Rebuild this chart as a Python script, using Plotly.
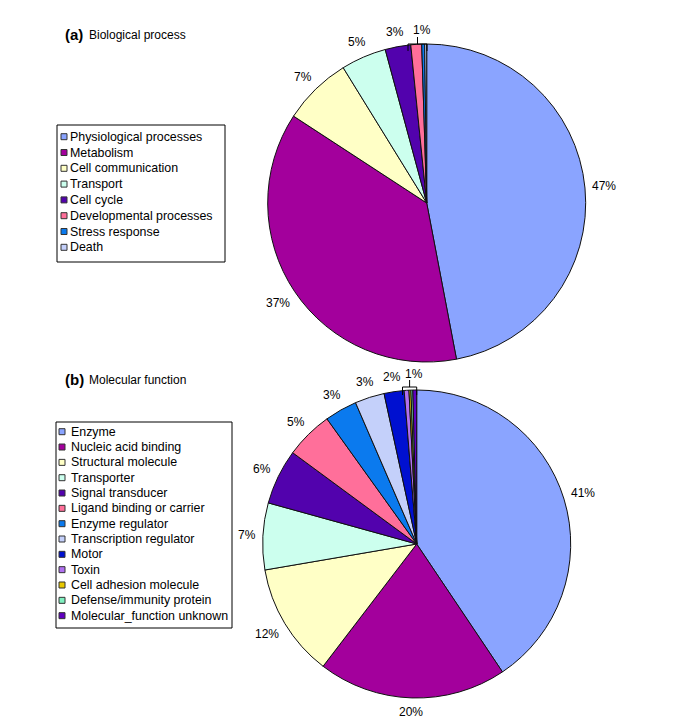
import math
import plotly.graph_objects as go

W, H = 685, 720
FONT = "Liberation Sans, Arial, sans-serif"

# ---- data: (a) Biological process ----
bio_labels = ["Physiological processes", "Metabolism", "Cell communication", "Transport",
              "Cell cycle", "Developmental processes", "Stress response", "Death"]
bio_values = [47.0, 37.2, 7.0, 4.6, 2.6, 1.1, 0.3, 0.2]
bio_colors = ["#8AA4FF", "#A3009C", "#FFFFC6", "#CCFFEE",
              "#5202AD", "#FF6F9A", "#0B7AEE", "#C4D0FA"]

# ---- data: (b) Molecular function ----
mol_labels = ["Enzyme", "Nucleic acid binding", "Structural molecule", "Transporter",
              "Signal transducer", "Ligand binding or carrier", "Enzyme regulator",
              "Transcription regulator", "Motor", "Toxin", "Cell adhesion molecule",
              "Defense/immunity protein", "Molecular_function unknown"]
mol_values = [40.6, 19.8, 11.9, 7.0, 5.8, 5.0, 3.4, 3.1, 2.1, 0.5, 0.2, 0.2, 0.4]
mol_colors = ["#8AA4FF", "#A3009C", "#FFFFC6", "#CCFFEE", "#5202AD", "#FF6F9A",
              "#0B7AEE", "#C4D0FA", "#0010D0", "#B070F0", "#E8C800", "#80F0C0", "#6000C0"]

SMALL_LABEL = "1%"

# pie geometry (pixels): centre and radius
A_CX, A_CY, A_R = 426.7, 203.0, 159.0
B_CX, B_CY, B_R = 416.7, 544.0, 154.0


def px(x):
    return x / W


def py(y):
    return 1 - y / H


fig = go.Figure()

fig.add_trace(go.Pie(
    labels=bio_labels, values=bio_values, sort=False, direction="clockwise", rotation=0,
    marker=dict(colors=bio_colors, line=dict(color="#111111", width=1)),
    textinfo="none",
    domain=dict(x=[px(A_CX - A_R), px(A_CX + A_R)], y=[py(A_CY + A_R), py(A_CY - A_R)]),
    showlegend=False, hoverinfo="label+percent",
))

fig.add_trace(go.Pie(
    labels=mol_labels, values=mol_values, sort=False, direction="clockwise", rotation=0,
    marker=dict(colors=mol_colors, line=dict(color="#111111", width=1)),
    textinfo="none",
    domain=dict(x=[px(B_CX - B_R), px(B_CX + B_R)], y=[py(B_CY + B_R), py(B_CY - B_R)]),
    showlegend=False, hoverinfo="label+percent",
))

shapes = []
annotations = []


def add_pct_labels(values, cx, cy, r):
    tot = sum(values)
    cum = 0.0
    for v in values:
        p = v / tot * 100
        mid = (cum + v / 2) / tot * 2 * math.pi
        cum += v
        if p < 1.5:
            continue
        txt = f"{round(p)}%"
        w = 6.7 * len(txt) + 2
        dx, dy = math.sin(mid), -math.cos(mid)
        ext = abs(dx) * w / 2 + abs(dy) * 6
        d = r + 8 + ext
        annotations.append(dict(text=txt, xref="paper", yref="paper",
                                x=px(cx + dx * d), y=py(cy + dy * d),
                                xanchor="center", yanchor="middle", showarrow=False,
                                font=dict(family=FONT, size=12, color="#000000")))


add_pct_labels(bio_values, A_CX, A_CY, A_R)
add_pct_labels(mol_values, B_CX, B_CY, B_R)


def add_legend(labels, colors, box, y0, step, mx, tx):
    x1, y1, x2, y2 = box
    shapes.append(dict(type="rect", xref="paper", yref="paper",
                       x0=px(x1), x1=px(x2), y0=py(y2), y1=py(y1),
                       line=dict(color="#000000", width=1), fillcolor="white", layer="below"))
    for i, (lab, col) in enumerate(zip(labels, colors)):
        yc = y0 + i * step
        shapes.append(dict(type="rect", xref="paper", yref="paper",
                           x0=px(mx), x1=px(mx + 6), y0=py(yc + 3), y1=py(yc - 3),
                           line=dict(color="#333333", width=1), fillcolor=col))
        annotations.append(dict(text=lab, xref="paper", yref="paper", x=px(tx), y=py(yc),
                                xanchor="left", yanchor="middle", showarrow=False,
                                font=dict(family=FONT, size=12.4, color="#000000")))


add_legend(bio_labels, bio_colors, (57, 125, 225, 262), 136.7, 15.8, 61, 68)
add_legend(mol_labels, mol_colors, (56, 422, 232, 628), 431.7, 15.33, 59, 69)


def add_title(tag, text, y):
    annotations.append(dict(text=f"<b>{tag}</b>", xref="paper", yref="paper", x=px(63), y=py(y),
                            xanchor="left", yanchor="middle", showarrow=False,
                            font=dict(family=FONT, size=15, color="#000000")))
    annotations.append(dict(text=text, xref="paper", yref="paper", x=px(87), y=py(y + 0.5),
                            xanchor="left", yanchor="middle", showarrow=False,
                            font=dict(family=FONT, size=12, color="#000000")))


add_title("(a)", "Biological process", 34)
add_title("(b)", "Molecular function", 379)


def add_bracket(xl, xr, ytop, ybot, ytick, ylabel):
    xm = (xl + xr) / 2
    shapes.append(dict(type="path", xref="paper", yref="paper",
                       path=f"M {px(xl)},{py(ybot)} L {px(xl)},{py(ytop)} L {px(xr)},{py(ytop)} L {px(xr)},{py(ybot)}",
                       line=dict(color="#000000", width=1)))
    shapes.append(dict(type="line", xref="paper", yref="paper",
                       x0=px(xm), x1=px(xm), y0=py(ytop), y1=py(ytick),
                       line=dict(color="#000000", width=1)))
    annotations.append(dict(text=SMALL_LABEL, xref="paper", yref="paper", x=px(xm + 4), y=py(ylabel),
                            xanchor="center", yanchor="middle", showarrow=False,
                            font=dict(family=FONT, size=12, color="#000000")))


add_bracket(408, 427, 44, 51, 37, 30)
add_bracket(402.5, 416.7, 387, 395, 380, 374)

fig.update_layout(
    width=W, height=H, margin=dict(l=0, r=0, t=0, b=0),
    paper_bgcolor="white", plot_bgcolor="white",
    shapes=shapes, annotations=annotations,
    font=dict(family=FONT, size=12, color="#000000"),
)

fig.write_html("out.html", config={"displayModeBar": False},
               post_script="document.body.style.margin='0px';")
